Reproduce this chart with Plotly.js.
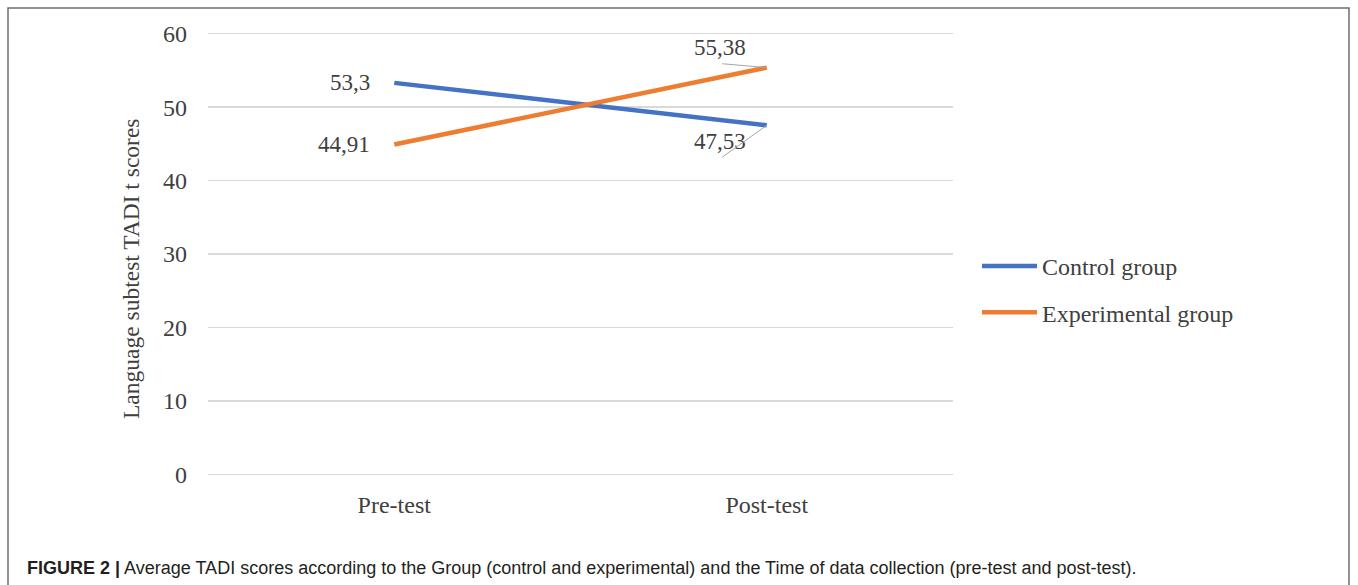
<!DOCTYPE html>
<html>
<head>
<meta charset="utf-8">
<script src="https://cdn.plot.ly/plotly-3.0.1.min.js"></script>
<style>html,body{margin:0;padding:0;background:#fff;}#chart{width:1358px;height:585px;}</style>
</head>
<body>
<div id="chart"></div>
<script>
const categories = ['Pre-test', 'Post-test'];
const controlScores = [53.3, 47.53];
const experimentalScores = [44.91, 55.38];
const controlLabels = ['53,3', '47,53'];
const experimentalLabels = ['44,91', '55,38'];
const seriesNames = ['Control group', 'Experimental group'];
const yTicks = [0, 10, 20, 30, 40, 50, 60];
const yTitle = 'Language subtest TADI t scores';
const captionBold = 'FIGURE 2 |';
const captionText = ' Average TADI scores according to the Group (control and experimental) and the Time of data collection (pre-test and post-test).';

const serif = 'Liberation Serif, Times New Roman, serif';
const labelFont = {family: serif, size: 23, color: '#404040'};

// plot area: x 208..953, y 30..478 (range padded so 0 and 60 grid lines sit inside)
const L = 208, R = 953, T = 30, B = 478;
const px = v => (v - L) / (R - L);
const py = v => (B - v) / (B - T);

const traces = [
  {x: categories, y: controlScores, name: seriesNames[0], mode: 'lines', legendgroup: 'a',
   line: {color: '#4472C4', width: 4.5}, hoverinfo: 'none'},
  {x: categories, y: experimentalScores, name: seriesNames[1], mode: 'lines', legendgroup: 'b',
   line: {color: '#ED7D31', width: 4.5}, hoverinfo: 'none'}
];

const annotations = [
  {x: categories[0], y: controlScores[0], text: controlLabels[0], showarrow: false, xanchor: 'right', xshift: -22, font: labelFont},
  {x: categories[0], y: experimentalScores[0], text: experimentalLabels[0], showarrow: false, xanchor: 'right', xshift: -22, font: labelFont},
  {x: categories[1], y: experimentalScores[1], text: experimentalLabels[1], showarrow: false, xshift: -47, yshift: 20, font: labelFont},
  {x: categories[1], y: experimentalScores[1], text: '', showarrow: true, arrowhead: 0, arrowwidth: 1, arrowcolor: '#a6a6a6', ax: -46, ay: -4, standoff: 0, startstandoff: 0},
  {x: categories[1], y: controlScores[1], text: controlLabels[1], showarrow: false, xshift: -47, yshift: -16, font: labelFont},
  {x: categories[1], y: controlScores[1], text: '', showarrow: true, arrowhead: 0, arrowwidth: 1, arrowcolor: '#a6a6a6', ax: -46, ay: 33, standoff: 0, startstandoff: 0},
  {xref: 'paper', yref: 'paper', x: px(131), y: py(269), xanchor: 'center', yanchor: 'middle', textangle: -90,
   showarrow: false, text: yTitle, font: {family: serif, size: 23.5, color: '#404040'}},
  {xref: 'paper', yref: 'paper', x: px(25), y: py(568), xanchor: 'left', yanchor: 'middle',
   showarrow: false, text: '<b>' + captionBold + '</b>' + captionText,
   font: {family: 'Liberation Sans, Arial, sans-serif', size: 18, color: '#231f20'}}
];

const layout = {
  width: 1358, height: 585,
  margin: {l: L, r: 1358 - R, t: T, b: 585 - B},
  paper_bgcolor: '#ffffff', plot_bgcolor: '#ffffff',
  showlegend: true,
  legend: {x: px(977), xanchor: 'left', y: py(289.5), yanchor: 'middle',
    font: {family: serif, size: 24, color: '#404040'}, traceorder: 'grouped', tracegroupgap: 12,
    itemwidth: 55, bgcolor: 'rgba(0,0,0,0)'},
  xaxis: {type: 'category', range: [-0.5, 1.5], showgrid: false, zeroline: false, showline: false,
    ticks: '', ticklabelstandoff: 10, tickfont: {family: serif, size: 24, color: '#404040'}, fixedrange: true},
  yaxis: {range: [-0.5, 60.5], tickvals: yTicks, showgrid: true, gridcolor: '#d9d9d9', gridwidth: 1.5,
    zeroline: false, showline: false, ticks: '', ticklabelstandoff: 20,
    tickfont: {family: serif, size: 24, color: '#404040'}, fixedrange: true},
  shapes: [
    {type: 'rect', xref: 'paper', yref: 'paper', x0: px(8), x1: px(1349),
     y0: py(620), y1: py(8), line: {color: '#6d6e71', width: 1.5}, fillcolor: 'rgba(0,0,0,0)', layer: 'below'}
  ],
  annotations: annotations
};

Plotly.newPlot('chart', traces, layout, {staticPlot: true, displayModeBar: false});
</script>
</body>
</html>
